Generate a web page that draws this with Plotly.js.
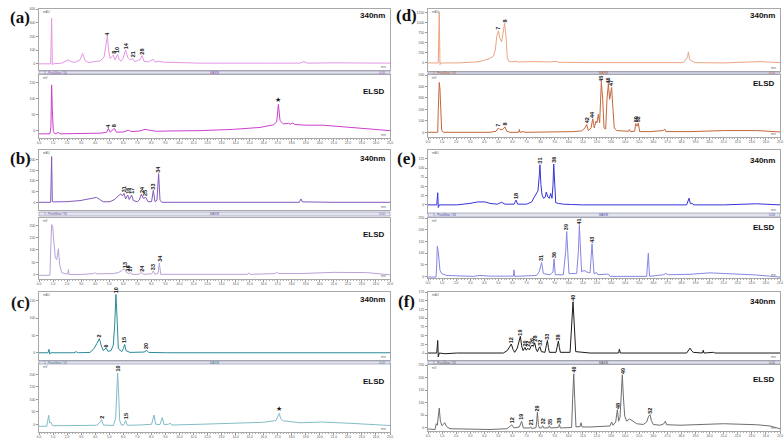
<!DOCTYPE html>
<html>
<head>
<meta charset="utf-8">
<script src="https://cdn.plot.ly/plotly-3.0.1.min.js"></script>
<style>
html,body{margin:0;padding:0;background:#fff}
#chart{width:784px;height:441px}
</style>
</head>
<body>
<div id="chart"></div>
<script>
// ---- Chromatogram data: retention time (min) and detector signal ----

// (a) 340 nm
const aUvTime = [0,0.83,0.90,0.95,1.02,1.61,2.09,2.33,2.56,2.92,3.11,3.28,3.51,4.11,4.34,4.63,4.77,4.87,4.96,5.06,5.20,5.29,5.41,5.60,5.72,5.84,5.96,6.17,6.32,6.48,6.67,6.81,7.03,7.19,7.34,7.48,7.79,8.14,8.26,8.57,8.86,9.45,11.47,16.22,18.59,18.87,19.11,20.96,23.34,25];
const aUvSignal = [0,0,333,-7,0,5,29,14,10,29,76,24,10,14,21,48,148,200,100,40,52,64,29,69,29,21,33,100,48,29,38,17,24,29,60,19,14,33,14,19,12,10,5,5,5,17,5,7,7,5];
const aUvPeaks = ['4','8','10','14','21','28'];
const aUvPeakTime = [4.87,5.29,5.60,6.17,6.67,7.34];
// (a) ELSD
const aElsdTime = [0,0.78,0.85,0.90,0.95,0.97,1.02,1.14,1.38,1.50,3.16,4.34,4.82,4.94,5.06,5.37,5.51,6.01,6.36,6.60,7.19,7.55,7.91,8.38,9.33,11.47,13.84,15.74,16.69,16.93,17.05,17.17,17.40,17.76,17.88,18.07,18.23,19.06,20.25,22.15,23.34,25];
const aElsdSignal = [-9,-9,14,144,66,24,-2,-9,-5,-9,-8,-7,-4,8,-4,8,-4,-3,2,-2,0,5,2,-1,0,1,5,11,19,28,83,32,22,24,21,25,20,18,18,11,6,1];
const aElsdPeaks = ['4','8','★'];
const aElsdPeakTime = [4.94,5.37,17.05];

// (b) 340 nm
const bUvTime = [0,0.83,0.90,0.95,1.02,1.97,2.92,3.63,4.11,4.30,4.58,5.06,5.41,5.65,5.82,5.96,6.05,6.17,6.32,6.43,6.60,6.72,7.00,7.15,7.29,7.43,7.60,7.76,8.02,8.14,8.26,8.40,8.52,8.62,8.76,11.47,18.54,18.66,18.76,20.96,25];
const bUvSignal = [0,0,214,3,2,3,8,17,23,14,2,3,14,31,38,31,42,16,34,13,34,8,3,11,38,19,23,3,3,56,3,9,134,9,0,0,0,16,2,0,0];
const bUvPeaks = ['31','16','17','24','25','33','34'];
const bUvPeakTime = [6.05,6.32,6.60,7.29,7.60,8.14,8.52];
// (b) ELSD
const bElsdTime = [0,0.78,0.85,0.90,0.97,1.07,1.16,1.26,1.38,1.47,1.61,1.85,2.07,2.09,2.14,3.16,3.87,3.94,4.11,5.29,5.65,5.89,6.08,6.20,6.32,6.41,6.51,6.62,7.08,7.31,7.45,8.02,8.14,8.26,8.48,8.57,8.67,11.47,14.86,14.93,15.03,16.81,16.93,17.07,18.59,20.96,23.34,25];
const bElsdSignal = [-3,-3,122,203,196,135,68,61,105,41,9,3,3,20,0,1,4,8,3,4,8,16,24,11,8,3,9,1,1,8,1,3,15,1,5,47,1,0,1,7,1,4,9,4,4,9,8,-1];
const bElsdPeaks = ['13','16','17','24','33','34'];
const bElsdPeakTime = [6.08,6.32,6.51,7.31,8.14,8.57];

// (c) 340 nm
const cUvTime = [0,0.64,0.71,0.76,0.83,2.49,2.64,2.80,3.63,3.92,4.11,4.30,4.44,4.58,4.77,4.91,5.13,5.29,5.39,5.48,5.56,5.65,5.89,6.01,6.10,6.20,6.48,7.48,7.67,7.81,9.09,25];
const cUvSignal = [0,0,10,-4,0,0,3,0,1,12,26,41,20,6,14,4,6,22,80,169,100,12,3,12,24,6,1,2,7,1,0,0];
const cUvPeaks = ['2','6','10','15','20'];
const cUvPeakTime = [4.30,4.77,5.48,6.10,7.67];
// (c) ELSD
const cElsdTime = [0,0.55,0.64,0.69,0.76,0.85,0.97,3.16,4.11,4.34,4.46,4.58,5.29,5.46,5.53,5.60,5.67,5.75,5.89,6.05,6.17,6.29,7.19,8.02,8.19,8.31,8.62,8.78,8.90,9.24,9.33,9.45,11.47,13.84,15.98,16.88,17.05,17.12,17.21,17.40,18.59,20.13,22.15,23.81,25];
const cElsdSignal = [-8,-8,20,36,5,8,-6,-6,-4,8,19,-3,-5,23,148,206,123,14,-4,-1,15,-4,-3,0,37,0,-1,27,-1,0,5,-3,0,3,8,15,40,44,23,14,6,9,4,0,-5];
const cElsdPeaks = ['2','10','15','★'];
const cElsdPeakTime = [4.46,5.60,6.17,17.12];

// (d) 340 nm
const dUvTime = [0,0.73,0.80,0.85,0.92,2.04,3.46,3.93,4.40,4.64,4.78,4.88,5.00,5.11,5.23,5.35,5.44,5.54,5.63,5.73,5.94,6.18,6.42,7.48,8.66,9.09,9.26,11.51,18.13,18.44,18.49,18.58,18.73,18.96,20.98,23.58,25];
const dUvSignal = [0,0,1275,-42,0,0,25,58,117,167,317,650,800,608,525,816,983,650,133,42,25,42,25,33,25,42,17,8,8,150,275,83,50,8,0,33,8];
const dUvPeaks = ['7','8'];
const dUvPeakTime = [5.00,5.44];
// (d) ELSD
const dElsdTime = [0,0.69,0.73,0.80,0.85,0.90,0.97,1.09,4.40,4.83,5.00,5.11,5.28,5.47,5.59,5.82,6.44,6.49,6.53,6.82,6.89,10.32,10.91,11.15,11.27,11.39,11.58,11.70,11.81,11.93,12.00,12.10,12.19,12.31,12.41,12.50,12.62,12.71,12.81,12.90,13.04,13.14,13.23,13.40,13.87,14.25,14.30,14.37,14.68,14.75,14.85,14.94,15.03,15.77,16.71,16.81,16.90,18.61,20.98,23.34,25];
const dElsdSignal = [0,0,200,435,376,171,18,0,0,9,38,24,24,47,9,0,0,24,0,6,0,6,12,38,68,15,38,118,38,97,82,156,82,435,288,38,29,288,420,288,391,200,38,15,9,9,24,6,9,76,53,82,6,6,15,29,6,6,15,15,3];
const dElsdPeaks = ['7','8','42','44','45','46','47','50','52'];
const dElsdPeakTime = [5.00,5.47,11.27,11.70,12.31,12.81,13.04,14.75,14.94];

// (e) 340 nm
const eUvTime = [0,0.62,0.69,0.73,0.80,2.04,2.98,3.50,4.05,4.40,4.92,5.23,5.47,6.11,6.25,6.37,7.01,7.36,7.53,7.65,7.81,7.91,7.95,8.02,8.10,8.21,8.33,8.40,8.52,8.62,8.71,8.81,8.88,8.93,9.00,9.07,9.26,9.61,10.20,11.03,18.37,18.47,18.54,18.63,18.75,18.89,20.98,23.34,25];
const eUvSignal = [0,0,33,-7,0,0,4,8,8,4,2,7,2,2,13,2,2,8,20,27,38,82,109,55,27,18,21,35,21,18,31,18,55,111,46,6,4,2,1,0,0,11,18,4,4,0,0,3,0];
const eUvPeaks = ['18','31','36'];
const eUvPeakTime = [6.25,7.95,8.93];
// (e) ELSD
const eElsdTime = [0,0.57,0.62,0.66,0.73,0.78,0.85,0.97,1.33,3.22,3.69,4.40,6.06,6.11,6.16,7.72,7.91,8.07,8.19,8.66,8.88,8.95,9.04,9.61,9.78,9.85,9.92,10.01,10.56,10.68,10.75,10.82,10.91,11.08,11.27,11.51,11.60,11.65,11.72,11.79,11.98,12.07,12.81,12.93,15.53,15.60,15.65,15.70,15.74,16.71,16.90,17.07,18.61,20.03,20.98,23.34,25];
const eElsdSignal = [-3,-3,49,129,107,71,26,12,4,0,4,1,1,28,0,4,22,60,12,7,19,75,7,7,107,193,93,12,12,107,220,93,19,26,19,15,78,140,71,12,16,7,10,0,0,49,100,34,0,7,12,7,9,15,13,6,-3];
const eElsdPeaks = ['31','36','39','41','43'];
const eElsdPeakTime = [8.07,8.95,9.85,10.75,11.65];

// (f) 340 nm
const fUvTime = [0,0.62,0.69,0.73,0.80,1.21,2.04,5.35,5.63,5.78,5.92,6.04,6.16,6.34,6.49,6.56,6.65,6.75,6.89,6.98,7.08,7.20,7.32,7.39,7.48,7.58,7.67,7.77,7.88,7.95,8.05,8.31,8.40,8.48,8.55,8.62,9.09,9.19,9.26,9.33,9.40,10.09,10.20,10.30,10.39,10.49,11.51,13.54,13.59,13.66,18.37,18.49,18.61,18.73,18.84,19.48,19.55,19.60,20.27,20.38,25];
const fUvSignal = [0,0,36,-11,0,-2,0,0,7,19,26,10,2,14,43,48,21,7,16,8,14,9,19,23,19,29,12,4,14,18,4,2,21,36,16,2,2,21,34,16,2,2,80,147,80,4,0,0,11,0,0,6,14,6,2,0,8,0,2,0,0];
const fUvPeaks = ['12','19','20','22','26','28','32','33','38','40'];
const fUvPeakTime = [5.92,6.56,6.89,7.08,7.39,7.58,7.95,8.48,9.26,10.30];
// (f) ELSD
const fElsdTime = [0,0.50,0.59,0.66,0.76,0.80,0.88,0.99,1.09,1.18,1.33,1.56,4.40,5.59,5.78,5.94,6.11,6.49,6.65,6.77,7.22,7.29,7.36,7.67,7.72,7.77,7.84,7.91,8.07,8.14,8.21,8.55,8.62,8.69,9.26,9.33,9.40,10.20,10.27,10.35,10.42,10.51,10.80,10.87,10.94,11.51,12.93,13.04,13.14,13.33,13.45,13.54,13.64,13.73,13.80,13.87,13.97,14.11,14.30,14.49,14.82,15.29,15.53,15.67,15.77,15.86,16.00,16.48,16.76,16.86,16.95,17.90,19.55,20.98,23.34,24.29,25];
const fElsdSignal = [-5,-7,16,10,59,78,26,8,13,20,4,-4,-7,-4,3,12,-1,3,26,-1,-1,4,-3,0,26,62,13,-1,0,8,-1,0,8,-1,1,13,-1,1,111,215,117,3,5,20,3,3,7,23,10,23,72,26,42,156,211,130,46,26,35,29,16,13,23,46,52,29,13,10,16,26,12,10,14,16,12,7,-4];
const fElsdPeaks = ['12','19','21','29','32','35','38','40','48','49','52'];
const fElsdPeakTime = [5.94,6.65,7.29,7.77,8.14,8.62,9.33,10.35,13.45,13.80,15.77];

// ---- Page geometry (pixels) ----
const W = 784, H = 441;
const COLUMN_X = {left: [39, 390], right: [428, 780]};

const charts = [
  {time:aUvTime, signal:aUvSignal, peaks:aUvPeaks, peakTime:aUvPeakTime, col:'left', top:9, bottom:70, range:[-45,400], dtick:100, color:'#e596e5', tag:'340nm', tagY:15, unit:'mAU'},
  {time:aElsdTime, signal:aElsdSignal, peaks:aElsdPeaks, peakTime:aElsdPeakTime, col:'left', top:75, bottom:138, range:[-22,175], dtick:50, color:'#cc40cc', tag:'ELSD', tagY:92, unit:'mV', showX:true},
  {time:bUvTime, signal:bUvSignal, peaks:bUvPeaks, peakTime:bUvPeakTime, col:'left', top:150, bottom:210, range:[-36,245], dtick:50, color:'#8458bc', tag:'340nm', tagY:158, unit:'mAU'},
  {time:bElsdTime, signal:bElsdSignal, peaks:bElsdPeaks, peakTime:bElsdPeakTime, col:'left', top:218, bottom:279, range:[-18,230], dtick:50, color:'#b7a3d8', tag:'ELSD', tagY:235, unit:'mV', showX:true},
  {time:cUvTime, signal:cUvSignal, peaks:cUvPeaks, peakTime:cUvPeakTime, col:'left', top:292, bottom:360, range:[-21,176], dtick:50, color:'#2b8a9a', tag:'340nm', tagY:299, unit:'mAU'},
  {time:cElsdTime, signal:cElsdSignal, peaks:cElsdPeaks, peakTime:cElsdPeakTime, col:'left', top:364, bottom:432, range:[-31,242], dtick:50, color:'#82bcc6', tag:'ELSD', tagY:381, unit:'mV', showX:true},
  {time:dUvTime, signal:dUvSignal, peaks:dUvPeaks, peakTime:dUvPeakTime, col:'right', top:9, bottom:71, range:[-200,1341], dtick:250, color:'#eaa482', tag:'340nm', tagY:15, unit:'mAU'},
  {time:dElsdTime, signal:dElsdSignal, peaks:dElsdPeaks, peakTime:dElsdPeakTime, col:'right', top:75, bottom:137, range:[-41,500], dtick:100, color:'#c4663a', tag:'ELSD', tagY:83, unit:'mV', showX:true},
  {time:eUvTime, signal:eUvSignal, peaks:eUvPeaks, peakTime:eUvPeakTime, col:'right', top:150, bottom:213, range:[-22,149], dtick:25, color:'#3434dc', tag:'340nm', tagY:160, unit:'mAU'},
  {time:eElsdTime, signal:eElsdSignal, peaks:eElsdPeaks, peakTime:eElsdPeakTime, col:'right', top:218, bottom:278, range:[-7,251], dtick:50, color:'#8686e4', tag:'ELSD', tagY:227, unit:'mV', showX:true},
  {time:fUvTime, signal:fUvSignal, peaks:fUvPeaks, peakTime:fUvPeakTime, col:'right', top:292, bottom:360, range:[-20,175], dtick:25, color:'#1c1c1c', tag:'340nm', tagY:301, unit:'mAU'},
  {time:fElsdTime, signal:fElsdSignal, peaks:fElsdPeaks, peakTime:fElsdPeakTime, col:'right', top:365, bottom:431, range:[-13,250], dtick:50, color:'#6e6e6e', tag:'ELSD', tagY:379, unit:'mV', showX:true}
];

// Title strips drawn between each 340 nm / ELSD pair
const strips = [
  {col:'left', top:71, bottom:74, ink:'#8a4aa8'},
  {col:'left', top:212, bottom:216, ink:'#6a5a9a'},
  {col:'left', top:361, bottom:364, ink:'#4a7a8a'},
  {col:'right', top:72, bottom:74, ink:'#b05a30'},
  {col:'right', top:213, bottom:217, ink:'#4a4ab0'},
  {col:'right', top:361, bottom:364, ink:'#555555'}
];

const panelLetters = [
  {text:'(a)', x:20, y:17}, {text:'(b)', x:20, y:159}, {text:'(c)', x:20, y:302},
  {text:'(d)', x:406, y:16}, {text:'(e)', x:406, y:159}, {text:'(f)', x:406, y:301}
];

const px = v => v / W;
const py = v => 1 - v / H;

const traces = [];
const layout = {
  width: W, height: H,
  margin: {l:0, r:0, t:0, b:0},
  showlegend: false,
  paper_bgcolor: '#ffffff',
  plot_bgcolor: '#ffffff',
  annotations: [],
  shapes: []
};

charts.forEach((c, i) => {
  const n = i + 1;
  const sfx = n === 1 ? '' : String(n);
  const xr = 'x' + sfx, yr = 'y' + sfx;
  const cx = COLUMN_X[c.col];

  traces.push({
    type: 'scatter', mode: 'lines',
    x: c.time, y: c.signal,
    xaxis: xr, yaxis: yr,
    line: {color: c.color, width: 1},
    hoverinfo: 'skip'
  });

  layout['xaxis' + sfx] = {
    domain: [px(cx[0]), px(cx[1])],
    range: [0, 25],
    anchor: yr,
    showline: true, mirror: true, linecolor: '#a8a8a8', linewidth: 1,
    showgrid: false, zeroline: false,
    ticks: c.showX ? 'outside' : '',
    ticklen: 1.5, tickcolor: '#999',
    tick0: 0, dtick: 1,
    showticklabels: !!c.showX,
    tickformat: '.1f',
    tickfont: {size: 3.2, color: '#555', family: 'Liberation Sans'},
    minor: c.showX ? {ticks: 'outside', ticklen: 1, dtick: 0.2, tickcolor: '#b0b0b0'} : {ticks: ''}
  };
  layout['yaxis' + sfx] = {
    domain: [py(c.bottom), py(c.top)],
    range: c.range,
    anchor: xr,
    showline: true, mirror: true, linecolor: '#a8a8a8', linewidth: 1,
    showgrid: false, zeroline: false,
    ticks: 'outside', ticklen: 2, tickcolor: '#999',
    tick0: 0, dtick: c.dtick,
    tickfont: {size: 3.5, color: '#555', family: 'Liberation Sans'}
  };

  // peak numbers above their apex
  c.peaks.forEach((lab, k) => {
    const t = c.peakTime[k];
    let idx = 0, best = Infinity;
    c.time.forEach((tt, j) => { const d = Math.abs(tt - t); if (d < best) { best = d; idx = j; } });
    const star = lab === '★';
    layout.annotations.push({
      xref: xr, yref: yr, x: c.time[idx], y: c.signal[idx],
      text: star ? lab : '<b>' + lab + '</b>',
      showarrow: false,
      textangle: star ? 0 : -90,
      xanchor: 'center', yanchor: 'bottom',
      yshift: 0, borderpad: 0,
      font: {size: star ? 7 : 5.5, color: '#1a1a1a', family: 'Liberation Sans'}
    });
  });

  // detector tag
  layout.annotations.push({
    xref: 'paper', yref: 'paper',
    x: px(cx[1] - 3), y: py(c.tagY),
    xanchor: 'right', yanchor: 'middle',
    text: '<b>' + c.tag + '</b>', showarrow: false,
    font: {size: 8, color: '#111', family: 'Liberation Sans'}
  });
  // unit label
  layout.annotations.push({
    xref: 'paper', yref: 'paper',
    x: px(cx[0] + 2), y: py(c.top + 3),
    xanchor: 'left', yanchor: 'middle',
    text: c.unit, showarrow: false,
    font: {size: 3, color: '#666', family: 'Liberation Sans'}
  });
  // time unit
  layout.annotations.push({
    xref: 'paper', yref: 'paper',
    x: px(cx[1] - 2), y: py(c.bottom - 3),
    xanchor: 'right', yanchor: 'middle',
    text: 'min', showarrow: false,
    font: {size: 3, color: '#666', family: 'Liberation Sans'}
  });
});

strips.forEach(s => {
  const cx = COLUMN_X[s.col];
  layout.shapes.push({
    type: 'rect', xref: 'paper', yref: 'paper',
    x0: px(cx[0]), x1: px(cx[1]), y0: py(s.bottom), y1: py(s.top),
    fillcolor: '#e4e4ef', line: {color: '#9ea2bc', width: 0.8}
  });
  const ym = py((s.top + s.bottom) / 2);
  [['1 - PeakNew #16', cx[0] + 3, 'left'], ['MAXM', (cx[0] + cx[1]) / 2, 'center'], ['0.00', cx[1] - 3, 'right']]
    .forEach(([txt, x, anchor]) => layout.annotations.push({
      xref: 'paper', yref: 'paper', x: px(x), y: ym,
      xanchor: anchor, yanchor: 'middle', text: txt, showarrow: false,
      font: {size: 3, color: s.ink, family: 'Liberation Sans'}
    }));
});

panelLetters.forEach(p => layout.annotations.push({
  xref: 'paper', yref: 'paper', x: px(p.x), y: py(p.y),
  xanchor: 'center', yanchor: 'middle',
  text: '<b>' + p.text + '</b>', showarrow: false,
  font: {size: 17, color: '#111', family: 'Liberation Serif'}
}));

Plotly.newPlot('chart', traces, layout, {staticPlot: true, displayModeBar: false});
</script>
</body>
</html>
